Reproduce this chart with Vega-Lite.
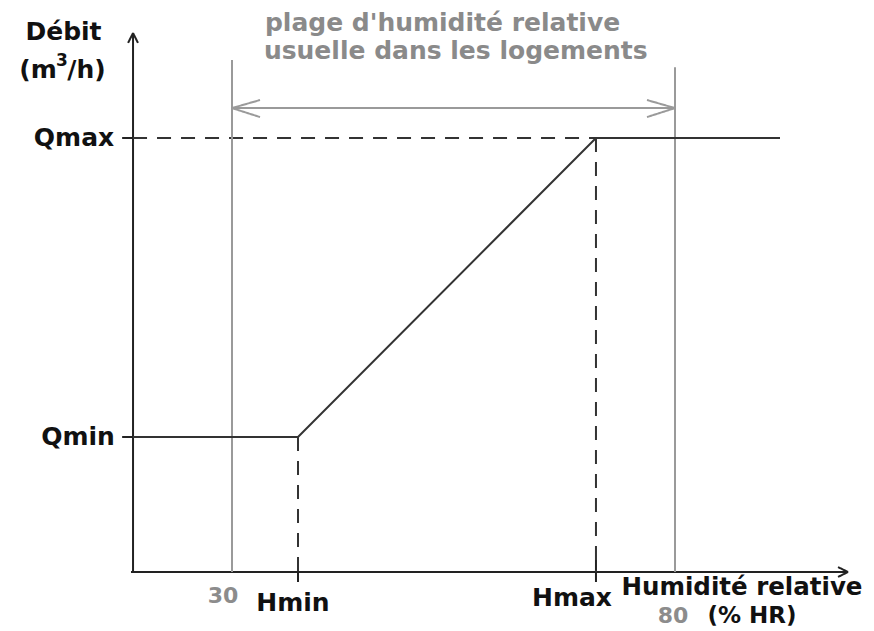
{
  "$schema": "https://vega.github.io/schema/vega-lite/v6.json",
  "width": 874,
  "height": 631,
  "padding": 0,
  "autosize": "none",
  "background": "white",
  "config": {"view": {"stroke": null}},
  "datasets": {
    "segments": [
      {"kind": "axis", "x1": 18.83, "y1": 0.5485, "x2": 18.83, "y2": 2.351},
      {"kind": "axis", "x1": 18.6, "y1": 0.5485, "x2": 99.53, "y2": 0.5485},
      {"kind": "axis", "x1": 18.83, "y1": 2.351, "x2": 18.27, "y2": 2.318},
      {"kind": "axis", "x1": 18.83, "y1": 2.351, "x2": 19.39, "y2": 2.318},
      {"kind": "axis", "x1": 99.53, "y1": 0.5485, "x2": 98.4, "y2": 0.565},
      {"kind": "axis", "x1": 99.53, "y1": 0.5485, "x2": 98.4, "y2": 0.532},
      {"kind": "axis", "x1": 17.6, "y1": 2, "x2": 18.83, "y2": 2},
      {"kind": "axis", "x1": 17.6, "y1": 1, "x2": 18.83, "y2": 1},
      {"kind": "axis", "x1": 37.45, "y1": 0.589, "x2": 37.45, "y2": 0.515},
      {"kind": "axis", "x1": 71.08, "y1": 0.589, "x2": 71.08, "y2": 0.515},
      {"kind": "dash", "x1": 18.83, "y1": 2, "x2": 71.08, "y2": 2},
      {"kind": "dash", "x1": 37.45, "y1": 1, "x2": 37.45, "y2": 0.5485},
      {"kind": "dash", "x1": 71.08, "y1": 2, "x2": 71.08, "y2": 0.5485},
      {"kind": "range", "x1": 30, "y1": 0.5485, "x2": 30, "y2": 2.261},
      {"kind": "range", "x1": 80, "y1": 0.5485, "x2": 80, "y2": 2.237},
      {"kind": "range", "x1": 30, "y1": 2.1, "x2": 80, "y2": 2.1},
      {"kind": "range", "x1": 30, "y1": 2.1, "x2": 33.16, "y2": 2.127},
      {"kind": "range", "x1": 30, "y1": 2.1, "x2": 33.16, "y2": 2.07},
      {"kind": "range", "x1": 80, "y1": 2.1, "x2": 76.84, "y2": 2.127},
      {"kind": "range", "x1": 80, "y1": 2.1, "x2": 76.84, "y2": 2.07}
    ],
    "curve": [
      {"h": 18.83, "q": 1},
      {"h": 37.45, "q": 1},
      {"h": 71.08, "q": 2},
      {"h": 91.85, "q": 2}
    ],
    "labels": [
      {"label": "Débit", "h": 10.98, "q": 2.355},
      {"label": "(m", "h": 8.1, "q": 2.227},
      {"label": "/h)", "h": 13.58, "q": 2.227},
      {"label": "Qmax", "h": 12.17, "q": 2},
      {"label": "Qmin", "h": 12.62, "q": 1},
      {"label": "Hmin", "h": 36.88, "q": 0.4448},
      {"label": "Hmax", "h": 68.37, "q": 0.4615}
    ],
    "xtitle": [
      {"label": "Humidité relative", "h": 87.56, "q": 0.495}
    ],
    "xunit": [
      {"label": "(% HR)", "h": 88.69, "q": 0.401}
    ],
    "superscript": [
      {"label": "3", "h": 10.81, "q": 2.2575}
    ],
    "numbers": [
      {"label": "30", "h": 28.98, "q": 0.468},
      {"label": "80", "h": 79.77, "q": 0.401}
    ],
    "heading": [
      {"label": "plage d'humidité relative", "h": 33.72, "q": 2.385},
      {"label": "usuelle dans les logements", "h": 33.6, "q": 2.29}
    ]
  },
  "layer": [
    {
      "data": {"name": "segments"},
      "mark": {"type": "rule"},
      "encoding": {
        "x": {"field": "x1", "type": "quantitative", "scale": {"domain": [3.815, 102.46], "nice": false, "zero": false}, "axis": null},
        "y": {"field": "y1", "type": "quantitative", "scale": {"domain": [0.3512, 2.4615], "nice": false, "zero": false}, "axis": null},
        "x2": {"field": "x2"},
        "y2": {"field": "y2"},
        "color": {"field": "kind", "type": "nominal", "scale": {"domain": ["axis", "dash", "range"], "range": ["#222222", "#333333", "#9a9a9a"]}, "legend": null},
        "strokeDash": {"field": "kind", "type": "nominal", "scale": {"domain": ["axis", "dash", "range"], "range": [[1, 0], [14, 10], [1, 0]]}, "legend": null},
        "size": {"field": "kind", "type": "nominal", "scale": {"domain": ["axis", "dash", "range"], "range": [2, 2, 1.6]}, "legend": null}
      }
    },
    {
      "data": {"name": "curve"},
      "mark": {"type": "line", "color": "#333333", "strokeWidth": 2},
      "encoding": {
        "x": {"field": "h", "type": "quantitative"},
        "y": {"field": "q", "type": "quantitative"},
        "order": {"field": "h", "type": "quantitative"}
      }
    },
    {
      "data": {"name": "labels"},
      "mark": {"type": "text", "font": "DejaVu Sans", "fontWeight": "bold", "fontSize": 25, "color": "#111111", "align": "center", "baseline": "middle"},
      "encoding": {
        "x": {"field": "h", "type": "quantitative"},
        "y": {"field": "q", "type": "quantitative"},
        "text": {"field": "label"}
      }
    },
    {
      "data": {"name": "xtitle"},
      "mark": {"type": "text", "font": "DejaVu Sans", "fontWeight": "bold", "fontSize": 24.5, "color": "#111111", "align": "center", "baseline": "middle"},
      "encoding": {
        "x": {"field": "h", "type": "quantitative"},
        "y": {"field": "q", "type": "quantitative"},
        "text": {"field": "label"}
      }
    },
    {
      "data": {"name": "xunit"},
      "mark": {"type": "text", "font": "DejaVu Sans", "fontWeight": "bold", "fontSize": 23, "color": "#111111", "align": "center", "baseline": "middle"},
      "encoding": {
        "x": {"field": "h", "type": "quantitative"},
        "y": {"field": "q", "type": "quantitative"},
        "text": {"field": "label"}
      }
    },
    {
      "data": {"name": "superscript"},
      "mark": {"type": "text", "font": "DejaVu Sans", "fontWeight": "bold", "fontSize": 17, "color": "#111111", "align": "center", "baseline": "middle"},
      "encoding": {
        "x": {"field": "h", "type": "quantitative"},
        "y": {"field": "q", "type": "quantitative"},
        "text": {"field": "label"}
      }
    },
    {
      "data": {"name": "numbers"},
      "mark": {"type": "text", "font": "DejaVu Sans", "fontWeight": "bold", "fontSize": 22, "color": "#8c8c8c", "align": "center", "baseline": "middle"},
      "encoding": {
        "x": {"field": "h", "type": "quantitative"},
        "y": {"field": "q", "type": "quantitative"},
        "text": {"field": "label"}
      }
    },
    {
      "data": {"name": "heading"},
      "mark": {"type": "text", "font": "DejaVu Sans", "fontWeight": "bold", "fontSize": 25, "color": "#8a8a8a", "align": "left", "baseline": "middle"},
      "encoding": {
        "x": {"field": "h", "type": "quantitative"},
        "y": {"field": "q", "type": "quantitative"},
        "text": {"field": "label"}
      }
    }
  ]
}
